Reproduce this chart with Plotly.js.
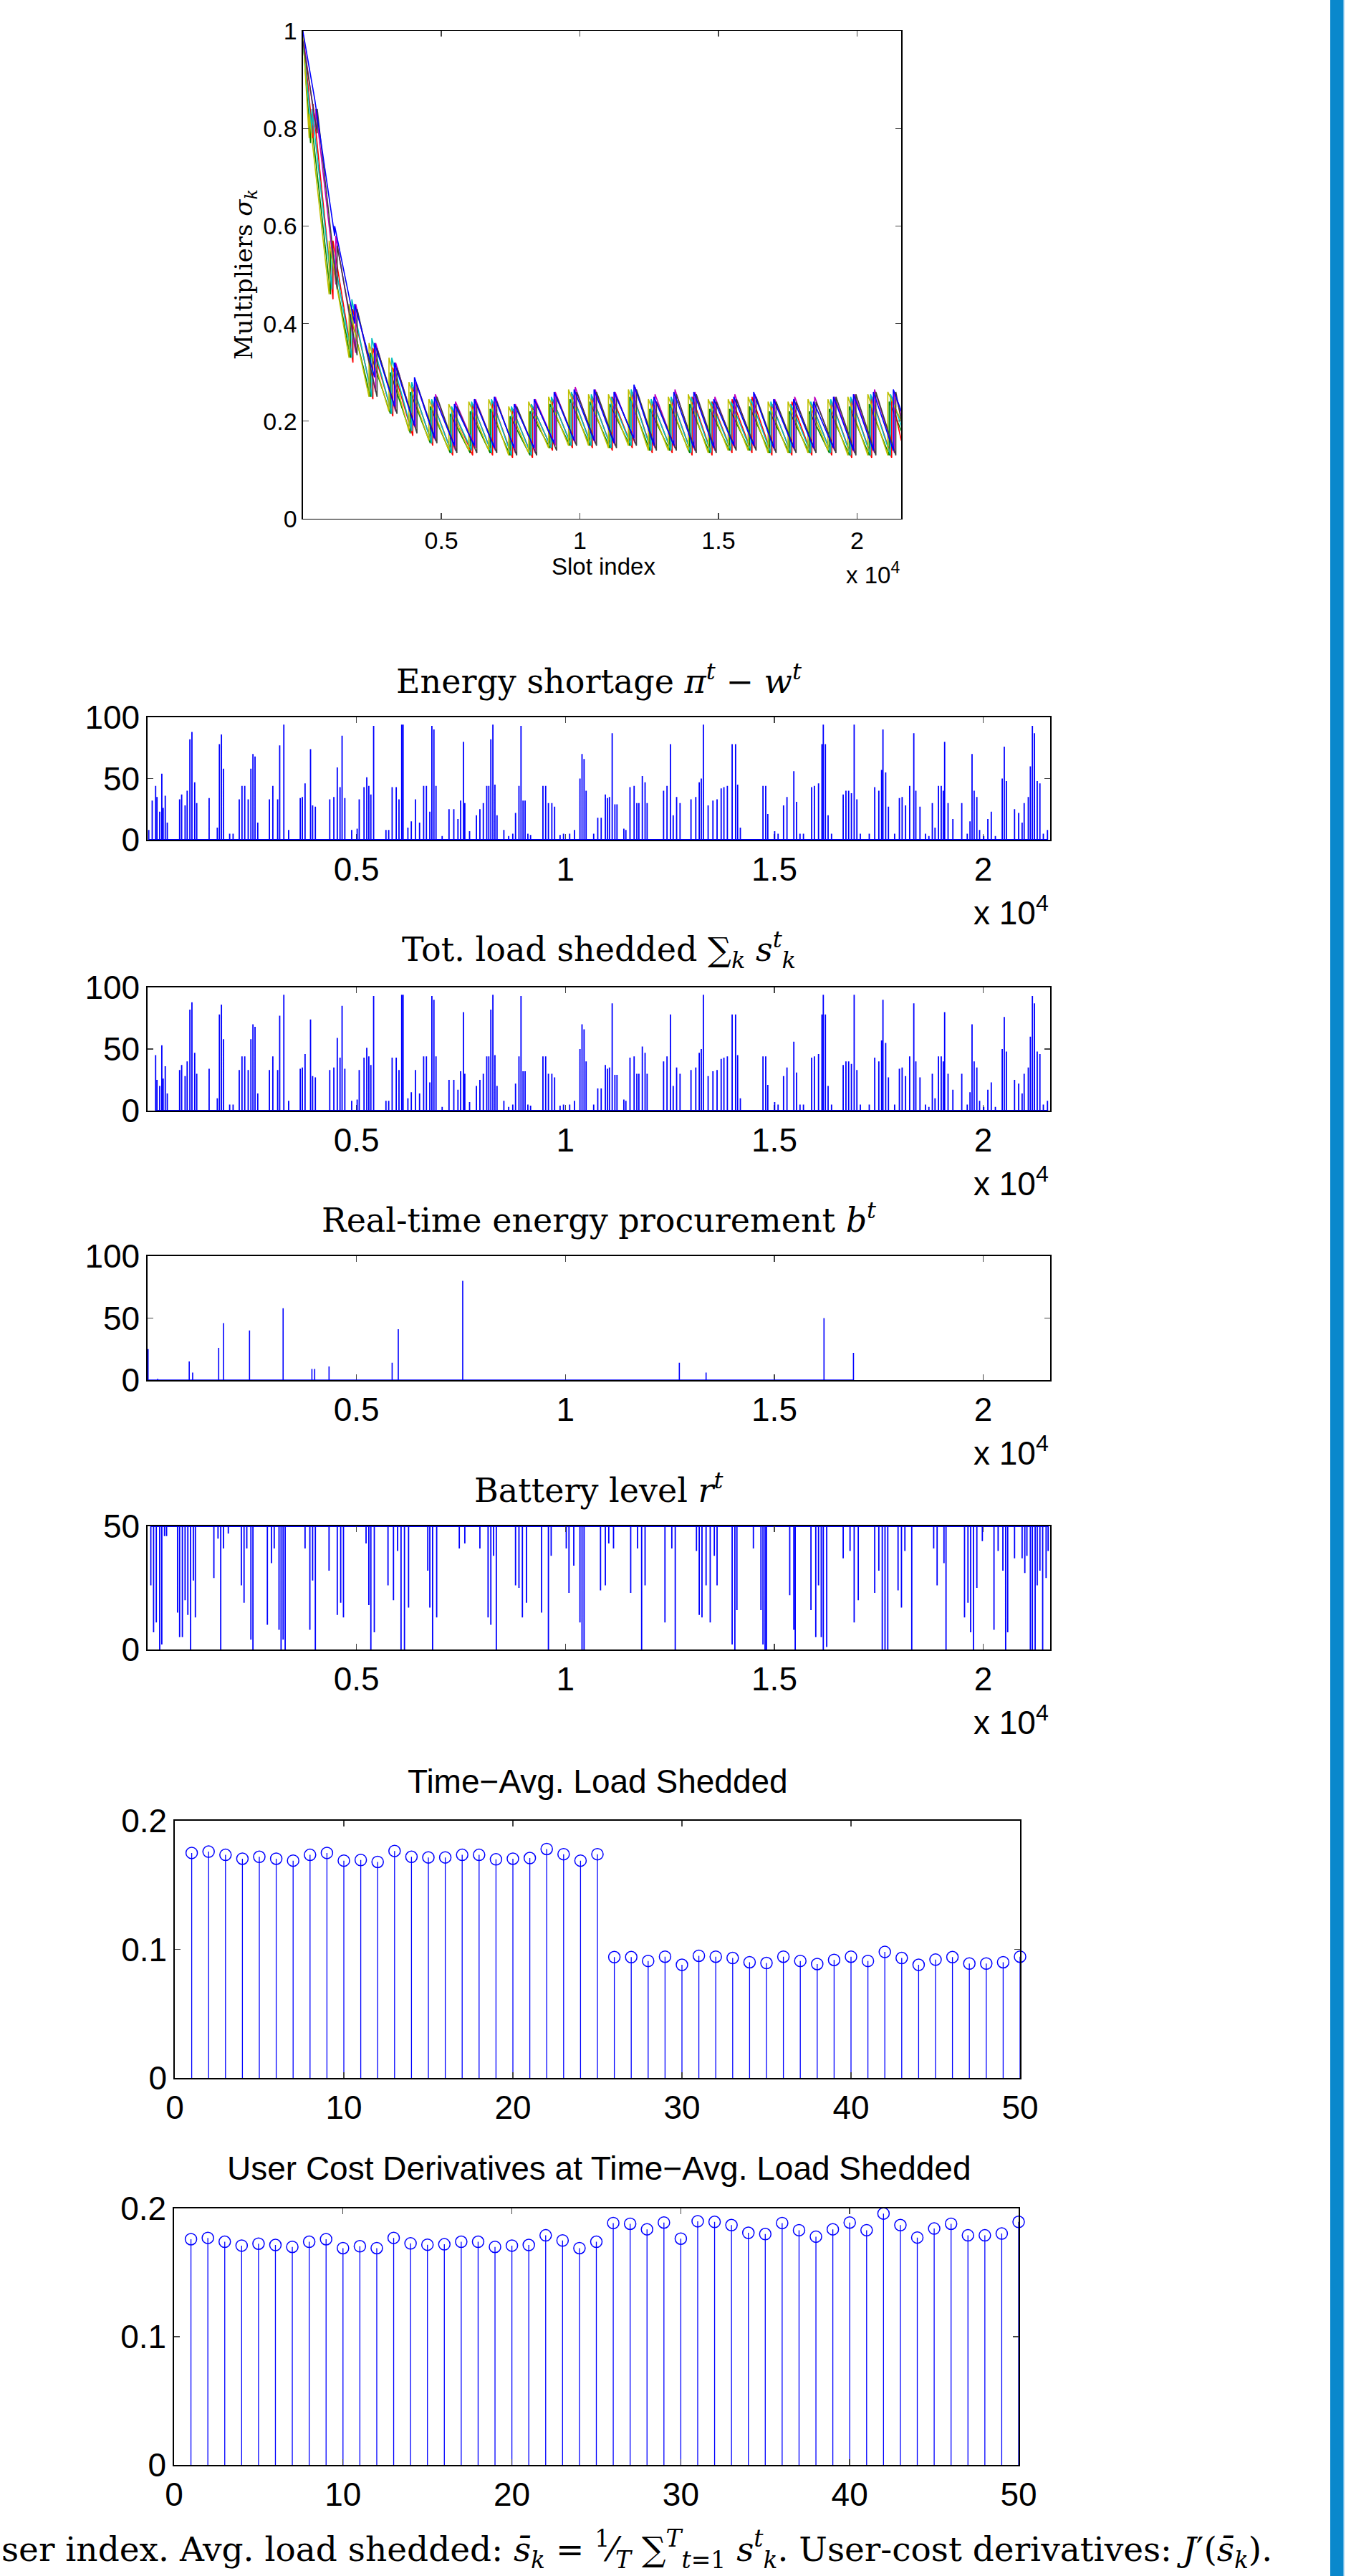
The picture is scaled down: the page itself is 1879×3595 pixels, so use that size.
<!DOCTYPE html>
<html><head><meta charset="utf-8">
<script src="https://cdn.plot.ly/plotly-3.0.1.min.js"></script>
<style>html,body{margin:0;padding:0;background:#fff;}#chart{width:1879px;height:3595px;}</style>
</head><body><div id="chart"></div>
<script>
// ---------- DATA ----------
// Multipliers sigma_k (7 representative users, MATLAB colour order)
const jumpSlots = [370,1090,1810,2530,3250,3970,4690,5410,6130,6850,7570,8290,9010,9730,10450,11170,11890,12610,13330,14050,14770,15490,16210,16930,17650,18370,19090,19810,20530,21250];
const sigmaShift = [60,-90,0,-40,100,-140,150];
const sigmaStart = [1.0,0.99,1.0,0.98,0.99,1.0,0.98];
const sigmaEnd = [0.22,0.18,0.16,0.19,0.21,0.2,0.2];
const sigBlueT = [0.86,0.58,0.40,0.29,0.23,0.19,0.165,0.15,0.15,0.145,0.145,0.145,0.155,0.16,0.16,0.155,0.165,0.15,0.15,0.145,0.145,0.15,0.15,0.145,0.145,0.145,0.145,0.14,0.14,0.14];
const sigBlueP = [0.86,0.60,0.44,0.36,0.32,0.29,0.25,0.235,0.245,0.25,0.235,0.245,0.26,0.265,0.265,0.26,0.275,0.25,0.26,0.26,0.245,0.25,0.26,0.245,0.245,0.24,0.25,0.255,0.26,0.265];
const sigGreenT = [0.77,0.46,0.33,0.25,0.215,0.175,0.155,0.135,0.135,0.135,0.13,0.13,0.145,0.15,0.15,0.145,0.15,0.14,0.14,0.135,0.135,0.14,0.14,0.135,0.135,0.135,0.135,0.13,0.13,0.13];
const sigGreenP = [0.83,0.55,0.42,0.34,0.30,0.26,0.23,0.215,0.22,0.225,0.21,0.22,0.235,0.245,0.24,0.235,0.25,0.225,0.235,0.235,0.225,0.225,0.23,0.22,0.22,0.22,0.225,0.23,0.235,0.24];
const sigRedT = [0.78,0.45,0.32,0.245,0.21,0.17,0.15,0.13,0.13,0.13,0.125,0.125,0.14,0.145,0.145,0.14,0.145,0.135,0.135,0.13,0.13,0.135,0.135,0.13,0.13,0.13,0.13,0.125,0.125,0.125];
const sigRedP = [0.85,0.57,0.43,0.35,0.31,0.27,0.24,0.225,0.235,0.24,0.225,0.23,0.245,0.255,0.25,0.25,0.26,0.24,0.245,0.25,0.24,0.245,0.25,0.235,0.24,0.235,0.24,0.245,0.25,0.25];
const sigCyanT = [0.79,0.47,0.33,0.25,0.215,0.18,0.155,0.135,0.14,0.135,0.13,0.13,0.145,0.15,0.15,0.145,0.15,0.14,0.14,0.135,0.135,0.14,0.14,0.135,0.135,0.135,0.135,0.13,0.13,0.13];
const sigCyanP = [0.84,0.56,0.45,0.37,0.33,0.28,0.245,0.23,0.24,0.245,0.23,0.235,0.25,0.26,0.255,0.25,0.265,0.245,0.25,0.25,0.24,0.24,0.245,0.24,0.235,0.24,0.245,0.25,0.255,0.255];
const sigMagT = [0.80,0.48,0.34,0.26,0.22,0.185,0.16,0.14,0.145,0.14,0.135,0.135,0.15,0.155,0.155,0.15,0.155,0.145,0.145,0.14,0.14,0.145,0.145,0.14,0.14,0.14,0.14,0.135,0.135,0.135];
const sigMagP = [0.84,0.58,0.44,0.36,0.32,0.28,0.255,0.24,0.245,0.25,0.235,0.245,0.26,0.27,0.265,0.26,0.27,0.255,0.265,0.26,0.25,0.255,0.255,0.245,0.25,0.25,0.25,0.255,0.265,0.26];
const sigOliveT = [0.78,0.46,0.33,0.25,0.22,0.18,0.16,0.14,0.14,0.14,0.13,0.135,0.145,0.15,0.15,0.145,0.15,0.14,0.14,0.14,0.135,0.14,0.14,0.135,0.135,0.135,0.14,0.13,0.13,0.13];
const sigOliveP = [0.83,0.57,0.44,0.36,0.33,0.28,0.245,0.235,0.24,0.245,0.23,0.24,0.25,0.265,0.255,0.255,0.265,0.245,0.25,0.255,0.245,0.245,0.25,0.24,0.24,0.245,0.245,0.25,0.255,0.26];
const sigGrayT = [0.79,0.47,0.335,0.25,0.215,0.175,0.155,0.135,0.135,0.135,0.13,0.13,0.14,0.15,0.15,0.145,0.15,0.14,0.14,0.135,0.135,0.14,0.14,0.135,0.135,0.135,0.135,0.13,0.13,0.13];
const sigGrayP = [0.84,0.56,0.43,0.35,0.31,0.275,0.25,0.23,0.235,0.24,0.23,0.235,0.25,0.26,0.26,0.25,0.265,0.24,0.255,0.255,0.24,0.245,0.25,0.24,0.24,0.24,0.25,0.255,0.26,0.26];
const sigmaColors = ['#0000ff','#008000','#ff0000','#00bfbf','#bf00bf','#bfbf00','#404040'];

// Energy shortage pi^t - w^t : spike slots and heights
const shortSlots = [29,111,193,226,291,341,373,423,472,767,816,898,948,1013,1062,1128,1177,1473,1669,1719,1768,1817,1965,2047,2194,2260,2326,2408,2473,2522,2572,2637,2916,2998,3113,3162,3261,3376,3654,3704,3769,3900,3950,4015,4360,4458,4540,4606,4655,4721,4885,5016,5065,5180,5246,5295,5344,5410,5705,5771,5853,5951,6017,6082,6115,6230,6312,6410,6509,6607,6673,6755,6804,6853,6903,7050,7214,7329,7428,7493,7559,7592,7706,7870,7953,8035,8117,8166,8215,8264,8313,8363,8527,8642,8740,8806,8888,8937,8986,9035,9101,9166,9462,9527,9593,9675,9741,9872,9954,10102,10216,10348,10397,10446,10495,10676,10774,10856,10955,11004,11053,11119,11184,11234,11398,11447,11545,11644,11709,11758,11840,11906,11955,12349,12431,12513,12579,12661,12743,13005,13120,13202,13251,13301,13415,13530,13629,13727,13793,13875,13990,14072,14121,14186,14728,14793,14843,15007,15089,15220,15302,15466,15532,15614,15696,15893,15958,16057,16139,16171,16221,16286,16368,16647,16713,16778,16844,16910,16975,17057,17271,17402,17500,17566,17599,17664,17730,17878,17992,18058,18140,18238,18337,18386,18485,18616,18698,18780,18845,18927,18993,19042,19075,19157,19272,19485,19616,19682,19731,19781,19846,19912,20010,20109,20191,20289,20453,20502,20552,20748,20847,20929,20978,21077,21126,21175,21224,21290,21355,21437,21536];
const shortVals = [8,32,44,35,23,54,26,36,14,33,37,28,40,82,88,47,30,34,10,78,86,58,5,5,33,44,44,33,58,70,68,14,33,44,33,77,94,8,34,35,46,74,28,27,33,35,59,43,85,34,8,9,33,43,51,44,37,93,8,8,43,43,33,94,94,10,15,33,14,44,44,23,93,90,44,3,25,25,17,32,80,30,7,20,25,30,44,44,82,94,45,20,8,3,5,22,44,93,32,32,5,4,44,44,30,30,27,4,5,5,8,50,70,66,40,5,18,18,37,34,35,87,29,29,9,8,43,44,30,30,52,47,30,40,44,78,20,35,30,33,35,47,50,94,28,32,33,42,43,44,78,78,45,10,44,44,21,7,5,28,35,56,31,5,5,43,44,46,78,94,78,20,5,37,40,40,38,94,33,5,5,43,40,57,90,55,27,5,34,35,28,44,87,40,27,5,3,30,10,44,44,40,80,30,17,30,5,15,70,40,35,8,3,17,23,3,50,76,48,25,22,14,30,35,60,93,87,48,46,5,8];

// Total load shedded sum_k s_k^t
const shedSlots = [193,226,291,341,373,423,472,767,816,898,948,1013,1062,1128,1177,1473,1669,1719,1768,1817,1965,2047,2194,2260,2326,2408,2473,2522,2572,2637,2916,2998,3113,3162,3261,3376,3654,3704,3769,3900,3950,4015,4360,4458,4540,4606,4655,4721,4885,5016,5065,5180,5246,5295,5344,5410,5705,5771,5853,5951,6017,6082,6115,6230,6312,6410,6509,6607,6673,6755,6804,6853,6903,7050,7214,7329,7428,7493,7559,7592,7706,7870,7953,8035,8117,8166,8215,8264,8313,8363,8527,8642,8740,8806,8888,8937,8986,9035,9101,9166,9462,9527,9593,9675,9741,9872,9954,10102,10216,10348,10397,10446,10495,10676,10774,10856,10955,11004,11053,11119,11184,11234,11398,11447,11545,11644,11709,11758,11840,11906,11955,12349,12431,12513,12579,12661,12743,13005,13120,13202,13251,13301,13415,13530,13629,13727,13793,13875,13990,14072,14121,14186,14728,14793,14843,15007,15089,15220,15302,15466,15532,15614,15696,15893,15958,16057,16139,16171,16221,16286,16368,16647,16713,16778,16844,16910,16975,17057,17271,17402,17500,17566,17599,17664,17730,17878,17992,18058,18140,18238,18337,18386,18485,18616,18698,18780,18845,18927,18993,19042,19075,19157,19272,19485,19616,19682,19731,19781,19846,19912,20010,20109,20191,20289,20453,20502,20552,20748,20847,20929,20978,21077,21126,21175,21224,21290,21355,21437,21536];
const shedVals = [45,25,20,53,26,36,14,33,37,28,40,82,88,47,30,34,10,78,86,58,5,5,33,44,44,33,58,70,68,14,33,44,33,77,94,8,34,35,46,74,28,27,33,35,59,43,85,34,8,9,33,43,51,44,37,93,8,8,43,43,33,94,94,10,15,33,14,44,44,23,93,90,44,3,25,25,17,32,80,30,7,20,25,30,44,44,82,94,45,20,8,3,5,22,44,93,32,32,5,4,44,44,30,30,27,4,5,5,8,50,70,66,40,5,18,18,37,34,35,87,29,29,9,8,43,44,30,30,52,47,30,40,44,78,20,35,30,33,35,47,50,94,28,32,33,42,43,44,78,78,45,10,44,44,21,7,5,28,35,56,31,5,5,43,44,46,78,94,78,20,5,37,40,40,38,94,33,5,5,43,40,57,90,55,27,5,34,35,28,44,87,40,27,5,3,30,10,44,44,40,80,30,17,30,5,15,70,40,35,8,3,17,23,3,50,76,48,25,22,14,30,35,60,93,87,48,46,5,8];

// Real-time energy procurement b^t
const procSlots = [12,242,997,1079,1702,1817,2440,3244,3933,3999,4343,5853,6000,7542,12726,13366,16188,16893];
const procVals = [25,1,15,6,26,46,40,58,9,9,11,14,41,80,14,6,50,22];

// Battery level r^t : dips below the 50 ceiling
const battSlots = [78,144,209,291,341,406,455,718,767,833,898,964,1030,1095,1144,1587,1686,1751,1817,1932,2244,2309,2375,2473,2522,2867,2965,3031,3146,3195,3244,3293,3769,3884,3950,4015,4343,4540,4622,4688,5229,5295,5344,5426,5754,5885,5984,6066,6148,6246,6706,6755,6821,6919,7460,7592,7953,8149,8215,8281,8346,8806,8888,8970,9068,9429,9593,9659,10020,10085,10200,10348,10397,10446,10840,10955,11037,11151,11562,11726,11824,11906,12382,12546,12628,13136,13202,13268,13366,13465,13563,13629,13990,14055,14104,14498,14679,14728,14777,14810,15368,15466,15499,15876,15991,16057,16122,16171,16253,16647,16811,16910,17008,17402,17500,17582,17648,17714,17960,18042,18124,18288,18813,18895,19059,19108,19551,19633,19698,19764,19846,19977,20256,20355,20469,20535,20584,20748,20929,20994,21044,21126,21175,21241,21290,21355,21421,21503,21552];
const battVals = [26,7,11,0,2,46,46,15,5,5,20,14,0,28,13,29,45,0,41,47,26,19,41,4,0,10,35,41,8,0,4,0,41,8,28,0,32,14,19,13,43,18,0,7,26,20,40,0,0,17,32,17,0,13,41,43,41,13,10,38,0,26,25,13,19,15,0,38,41,23,34,11,0,0,24,26,43,41,23,41,0,26,11,41,0,40,14,13,26,11,38,26,2,0,16,41,16,2,0,0,22,8,0,16,5,26,5,0,1,37,40,11,20,23,32,0,0,0,24,17,40,0,41,26,35,0,13,19,7,0,25,44,8,40,32,0,7,37,37,31,38,0,0,0,26,32,0,29,40];

// Time-averaged load shedded per user, and user-cost derivatives
const userIdx = [1,2,3,4,5,6,7,8,9,10,11,12,13,14,15,16,17,18,19,20,21,22,23,24,25,26,27,28,29,30,31,32,33,34,35,36,37,38,39,40,41,42,43,44,45,46,47,48,49,50];
const avgShed = [0.175,0.176,0.1735,0.1705,0.172,0.1705,0.169,0.1735,0.175,0.169,0.1695,0.168,0.1765,0.172,0.1715,0.1715,0.1735,0.1735,0.170,0.1705,0.171,0.178,0.174,0.169,0.174,0.094,0.094,0.091,0.0943,0.088,0.095,0.0943,0.0933,0.090,0.0894,0.0943,0.091,0.0886,0.0918,0.0943,0.091,0.098,0.0933,0.088,0.092,0.094,0.089,0.089,0.090,0.0943];
const costDeriv = [0.176,0.177,0.174,0.171,0.1725,0.1715,0.170,0.174,0.176,0.169,0.1705,0.169,0.177,0.1727,0.1717,0.172,0.174,0.174,0.170,0.171,0.1715,0.179,0.175,0.169,0.174,0.1886,0.188,0.1837,0.189,0.1764,0.190,0.1895,0.187,0.181,0.180,0.1886,0.183,0.178,0.1837,0.189,0.183,0.196,0.187,0.1773,0.1843,0.188,0.179,0.179,0.1804,0.1895];

const slotTickVals = [5000,10000,15000,20000];
const slotTickText = ['0.5','1','1.5','2'];

// ---------- BUILD ----------
const W = 1879, H = 3595;
const SANS = 'Liberation Sans, Arial, Helvetica, sans-serif';
const SERIF = 'DejaVu Serif, Liberation Serif, serif';
const BLUE = '#0000ff';
function xd(a, b) { return [a / W, b / W]; }
function yd(top, bottom) { return [1 - bottom / H, 1 - top / H]; }
function px(x) { return x / W; }
function py(y) { return 1 - y / H; }

function spikes(slots, vals, base) {
  const x = [], y = [];
  slots.forEach((s, i) => { x.push(s, s, s); y.push(base, vals[i], base); });
  return { x, y };
}
function stems(xs, vals) {
  const x = [], y = [];
  xs.forEach((k, i) => { x.push(k, k, null); y.push(0, vals[i], null); });
  return { x, y };
}

const traces = [];
const sigUsers = [
  [sigGreenT, sigGreenP, 1], [sigRedT, sigRedP, 2], [sigCyanT, sigCyanP, 3],
  [sigMagT, sigMagP, 4], [sigOliveT, sigOliveP, 5], [sigGrayT, sigGrayP, 6],
  [sigBlueT, sigBlueP, 0]
];
sigUsers.forEach(([T, P, u]) => {
  const x = [0], y = [sigmaStart[u]];
  jumpSlots.forEach((s, j) => { x.push(s + sigmaShift[u], s + sigmaShift[u]); y.push(T[j], P[j]); });
  x.push(21600); y.push(sigmaEnd[u]);
  traces.push({ type: 'scatter', mode: 'lines', x, y, xaxis: 'x', yaxis: 'y',
    line: { color: sigmaColors[u], width: 1.6 }, hoverinfo: 'skip', showlegend: false });
});

const s2 = spikes(shortSlots, shortVals, 0);
traces.push({ type: 'scatter', mode: 'lines', x: s2.x, y: s2.y, xaxis: 'x2', yaxis: 'y2', line: { color: BLUE, width: 1.8 }, showlegend: false });
const s3 = spikes(shedSlots, shedVals, 0);
traces.push({ type: 'scatter', mode: 'lines', x: s3.x, y: s3.y, xaxis: 'x3', yaxis: 'y3', line: { color: BLUE, width: 1.8 }, showlegend: false });
const s4 = spikes(procSlots, procVals, 0);
traces.push({ type: 'scatter', mode: 'lines', x: s4.x, y: s4.y, xaxis: 'x4', yaxis: 'y4', line: { color: BLUE, width: 1.6 }, showlegend: false });
const s5 = spikes(battSlots, battVals, 50);
traces.push({ type: 'scatter', mode: 'lines', x: s5.x, y: s5.y, xaxis: 'x5', yaxis: 'y5', line: { color: BLUE, width: 1.8 }, showlegend: false });

const st6 = stems(userIdx, avgShed);
traces.push({ type: 'scatter', mode: 'lines', x: st6.x, y: st6.y, xaxis: 'x6', yaxis: 'y6', line: { color: BLUE, width: 1.3 }, showlegend: false });
traces.push({ type: 'scatter', mode: 'markers', x: userIdx, y: avgShed, xaxis: 'x6', yaxis: 'y6', cliponaxis: false,
  marker: { symbol: 'circle-open', size: 16, color: BLUE, line: { width: 1.5, color: BLUE } }, showlegend: false });
const st7 = stems(userIdx, costDeriv);
traces.push({ type: 'scatter', mode: 'lines', x: st7.x, y: st7.y, xaxis: 'x7', yaxis: 'y7', line: { color: BLUE, width: 1.3 }, showlegend: false });
traces.push({ type: 'scatter', mode: 'markers', x: userIdx, y: costDeriv, xaxis: 'x7', yaxis: 'y7', cliponaxis: false,
  marker: { symbol: 'circle-open', size: 16, color: BLUE, line: { width: 1.5, color: BLUE } }, showlegend: false });

function ax(extra, fs) {
  return Object.assign({
    showline: true, linecolor: '#000', linewidth: 1.6, mirror: 'ticks',
    ticks: 'inside', ticklen: 8, tickwidth: 1.4, tickcolor: '#444',
    showgrid: false, zeroline: false, fixedrange: true,
    tickfont: { family: SANS, size: fs, color: '#000' }
  }, extra);
}
const PX = xd(206, 1466);
const layout = {
  width: W, height: H, margin: { l: 0, r: 0, t: 0, b: 0 },
  paper_bgcolor: '#fff', plot_bgcolor: '#fff', showlegend: false,
  xaxis: ax({ domain: xd(422.7, 1258.3), anchor: 'y', range: [0, 21600], tickvals: slotTickVals, ticktext: slotTickText, linewidth: 1.3 }, 34),
  yaxis: ax({ domain: yd(43, 724), anchor: 'x', range: [0, 1], tickvals: [0, 0.2, 0.4, 0.6, 0.8, 1], ticktext: ['0', '0.2', '0.4', '0.6', '0.8', '1'], linewidth: 1.3 }, 34),
  xaxis2: ax({ domain: PX, anchor: 'y2', range: [0, 21600], tickvals: slotTickVals, ticktext: slotTickText, layer: 'below traces' }, 46),
  yaxis2: ax({ domain: yd(1001, 1172), anchor: 'x2', range: [0, 100], tickvals: [0, 50, 100], layer: 'below traces' }, 46),
  xaxis3: ax({ domain: PX, anchor: 'y3', range: [0, 21600], tickvals: slotTickVals, ticktext: slotTickText, layer: 'below traces' }, 46),
  yaxis3: ax({ domain: yd(1378, 1550), anchor: 'x3', range: [0, 100], tickvals: [0, 50, 100], layer: 'below traces' }, 46),
  xaxis4: ax({ domain: PX, anchor: 'y4', range: [0, 21600], tickvals: slotTickVals, ticktext: slotTickText, layer: 'below traces' }, 46),
  yaxis4: ax({ domain: yd(1753, 1926), anchor: 'x4', range: [0, 100], tickvals: [0, 50, 100], layer: 'below traces' }, 46),
  xaxis5: ax({ domain: PX, anchor: 'y5', range: [0, 21600], tickvals: slotTickVals, ticktext: slotTickText }, 46),
  yaxis5: ax({ domain: yd(2130, 2302), anchor: 'x5', range: [0, 50], tickvals: [0, 50] }, 46),
  xaxis6: ax({ domain: xd(244, 1424), anchor: 'y6', range: [0, 50], tickvals: [0, 10, 20, 30, 40, 50] }, 46),
  yaxis6: ax({ domain: yd(2541, 2900), anchor: 'x6', range: [0, 0.2], tickvals: [0, 0.1, 0.2], ticktext: ['0', '0.1', '0.2'] }, 46),
  xaxis7: ax({ domain: xd(243, 1422), anchor: 'y7', range: [0, 50], tickvals: [0, 10, 20, 30, 40, 50] }, 46),
  yaxis7: ax({ domain: yd(3082, 3440), anchor: 'x7', range: [0, 0.2], tickvals: [0, 0.1, 0.2], ticktext: ['0', '0.1', '0.2'] }, 46),
  annotations: [],
  shapes: [
    { type: 'rect', xref: 'paper', yref: 'paper', x0: px(1857), x1: px(1875), y0: 0, y1: 1, fillcolor: '#0a88cc', line: { width: 0 }, layer: 'above' },
    { type: 'rect', xref: 'paper', yref: 'paper', x0: px(1875), x1: px(1876.5), y0: 0, y1: 1, fillcolor: '#6cb9e6', line: { width: 0 }, layer: 'above' }
  ]
};
function ann(text, x, y, font, extra) {
  layout.annotations.push(Object.assign({ text, xref: 'paper', yref: 'paper', x: px(x), y: py(y),
    xanchor: 'center', yanchor: 'middle', showarrow: false, font: Object.assign({ color: '#000' }, font) }, extra || {}));
}
// Plot 1 labels
ann('Slot index', 842, 790, { family: SANS, size: 33 });
ann('x 10<sup>4</sup>', 1258, 800, { family: SANS, size: 33 }, { xanchor: 'right' });
ann('Multipliers <i>σ</i><sub><i>k</i></sub>', 342, 383, { family: SERIF, size: 34 }, { textangle: -90 });
// Panels 2-5
const titles = [
  ['Energy shortage <i>π</i><sup><i>t</i></sup> − <i>w</i><sup><i>t</i></sup>', 1001, 1172],
  ['Tot. load shedded ∑<sub><i>k</i></sub> <i>s</i><sup><i>t</i></sup><sub><i>k</i></sub>', 1378, 1550],
  ['Real-time energy procurement <i>b</i><sup><i>t</i></sup>', 1753, 1926],
  ['Battery level <i>r</i><sup><i>t</i></sup>', 2130, 2302]
];
titles.forEach(([t, top, bot]) => {
  ann(t, 836, top - 53, { family: SERIF, size: 46 });
  ann('x 10<sup>4</sup>', 1466, bot + 99, { family: SANS, size: 46 }, { xanchor: 'right' });
});
ann('Time−Avg. Load Shedded', 834, 2486, { family: SANS, size: 46 });
ann('User Cost Derivatives at Time−Avg. Load Shedded', 836, 3026, { family: SANS, size: 46 });
ann('ser index. Avg. load shedded: <i>s̄</i><sub><i>k</i></sub> = <sup>1</sup>⁄<sub><i>T</i></sub> ∑<sup><i>T</i></sup><sub><i>t</i>=1</sub> <i>s</i><sup><i>t</i></sup><sub><i>k</i></sub>. User-cost derivatives: <i>J</i>′(<i>s̄</i><sub><i>k</i></sub>).',
  0, 3557, { family: SERIF, size: 47 }, { xanchor: 'left' });

Plotly.newPlot('chart', traces, layout, { staticPlot: true, displayModeBar: false });
</script></body></html>
